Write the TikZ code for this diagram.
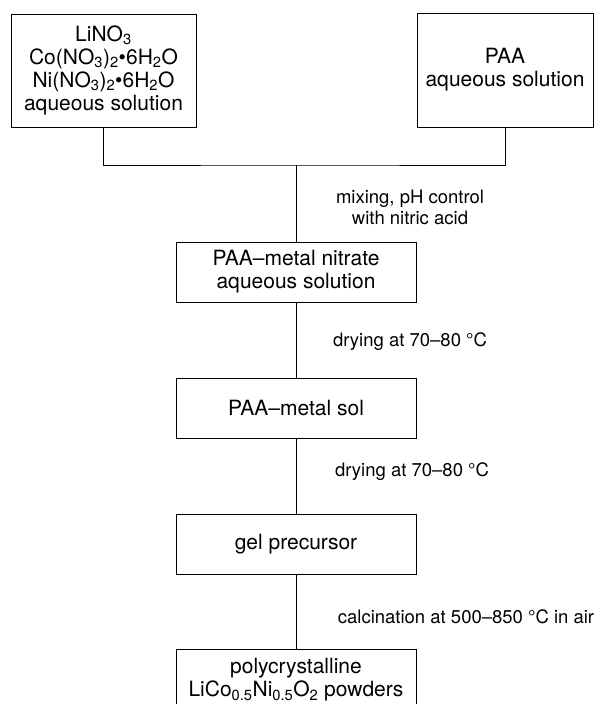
\documentclass[tikz,border=0pt]{standalone}
\usepackage{fontspec}
\setmainfont{TeX Gyre Heros}
\usetikzlibrary{positioning}
\newcommand{\sbs}[1]{\textsubscript{#1}}

\begin{document}
\begin{tikzpicture}[x=1pt, y=-1pt, line width=0.8pt,
		node distance=136pt,
		stagebox/.style={draw, rectangle, line width=1pt, align=center, inner sep=0pt,
			minimum width=240pt, minimum height=60pt, font=\fontsize{21}{23}\selectfont},
		steplabel/.style={align=center, font=\fontsize{18.5}{21}\selectfont}]
		\useasboundingbox (0,0) rectangle (594,704);

		\node[stagebox, minimum width=185pt, minimum height=113pt] (salts) at (103.5, 70.5)
			{LiNO\sbs{3}\\Co(NO\sbs{3})\sbs{2}\textbullet 6H\sbs{2}O\\Ni(NO\sbs{3})\sbs{2}\textbullet 6H\sbs{2}O\\aqueous solution};
		\node[stagebox, minimum width=176pt, minimum height=114pt] (paa) at (505, 70)
			{PAA\\aqueous solution};
		\node[stagebox] (nitrate) at (296, 272) {PAA--metal nitrate\\aqueous solution};
		\node[stagebox, below of=nitrate] (sol) {PAA--metal sol};
		\node[stagebox, below of=sol] (gel) {gel precursor};
		\node[stagebox, below of=gel, minimum height=62pt] (powder)
			{polycrystalline\\LiCo\sbs{0.5}Ni\sbs{0.5}O\sbs{2} powders};

		\coordinate (join) at (nitrate.north |- 0,165);

		\draw (salts.south) |- (join) -| (paa.south);
		\draw (join) -- (nitrate);
		\draw (nitrate) -- (sol);
		\draw (sol) -- (gel);
		\draw (gel) -- (powder);

		\node[steplabel] (mixlbl) at (410, 207) {mixing, pH control\\with nitric acid};
		\node[steplabel] (drylbla) at (410, 342) {drying at 70--80 °C};
		\node[steplabel] (drylblb) at (412, 472) {drying at 70--80 °C};
		\node[steplabel] (calclbl) at (466, 617) {calcination at 500--850 °C in air};
	\end{tikzpicture}
\end{document}
